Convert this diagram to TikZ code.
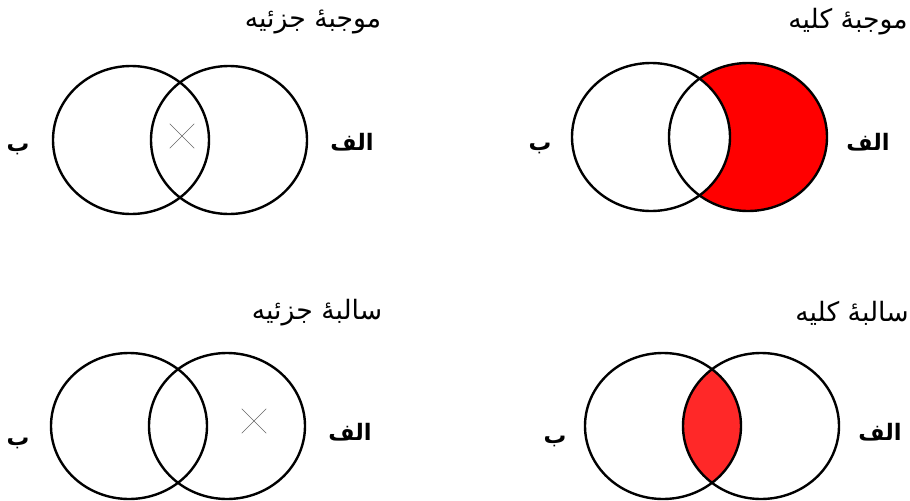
\documentclass[tikz,border=0pt]{standalone}
\usepackage{fontspec}
\newfontfamily\arabicfont[Script=Arabic]{DejaVu Sans}
\TeXXeTstate=1
\usetikzlibrary{shapes.misc}
\definecolor{fullred}{RGB}{255,0,0}
\definecolor{lensred}{RGB}{255,40,40}

\begin{document}
\begin{tikzpicture}[
    x=0.75pt,
    y=-0.75pt,
    venn/.style={draw, line width=1.8pt},
    title/.style={font=\arabicfont\fontsize{20}{24}\selectfont},
    lbl/.style={font=\arabicfont\bfseries\fontsize{17}{20}\selectfont},
    xmark/.style={draw=black!60, cross out, thin, inner sep=0pt, minimum size=18pt}
]
\useasboundingbox (0,0) rectangle (910,500);

% --- top left: partial affirmative ---
\node[title] (tl) at (313,22) {\beginR موجبهٔ جزئیه\endR};
\draw[venn] (131,140) ellipse [x radius=78, y radius=74];
\draw[venn] (229,140) ellipse [x radius=78, y radius=74];
\node[xmark] (tlx) at (182,136) {};
\node[lbl] (tlb) at (18,149) {\beginR ب\endR};
\node[lbl] (tla) at (352,142) {\beginR الف\endR};

% --- top right: universal affirmative ---
\node[title] (tr) at (848,22) {\beginR موجبهٔ کلیه\endR};
\begin{scope}
  \clip (748,137) ellipse [x radius=79, y radius=74];
  \fill[fullred] (748,137) ellipse [x radius=79, y radius=74];
  \fill[white] (651,137) ellipse [x radius=79, y radius=74];
\end{scope}
\draw[venn] (651,137) ellipse [x radius=79, y radius=74];
\draw[venn] (748,137) ellipse [x radius=79, y radius=74];
\node[lbl] (trb) at (540,148) {\beginR ب\endR};
\node[lbl] (tra) at (868,142) {\beginR الف\endR};

% --- bottom left: partial negative ---
\node[title] (bl) at (317,313) {\beginR سالبهٔ جزئیه\endR};
\draw[venn] (129,426) ellipse [x radius=78, y radius=73];
\draw[venn] (227,426) ellipse [x radius=78, y radius=73];
\node[xmark] (blx) at (254,421) {};
\node[lbl] (blb) at (18,443) {\beginR ب\endR};
\node[lbl] (bla) at (350,432) {\beginR الف\endR};

% --- bottom right: universal negative ---
\node[title] (br) at (852,313) {\beginR سالبهٔ کلیه\endR};
\begin{scope}
  \clip (663,426) ellipse [x radius=78, y radius=73];
  \fill[lensred] (761,426) ellipse [x radius=78, y radius=73];
\end{scope}
\draw[venn] (663,426) ellipse [x radius=78, y radius=73];
\draw[venn] (761,426) ellipse [x radius=78, y radius=73];
\node[lbl] (brb) at (555,441) {\beginR ب\endR};
\node[lbl] (bra) at (880,432) {\beginR الف\endR};
\end{tikzpicture}
\end{document}
